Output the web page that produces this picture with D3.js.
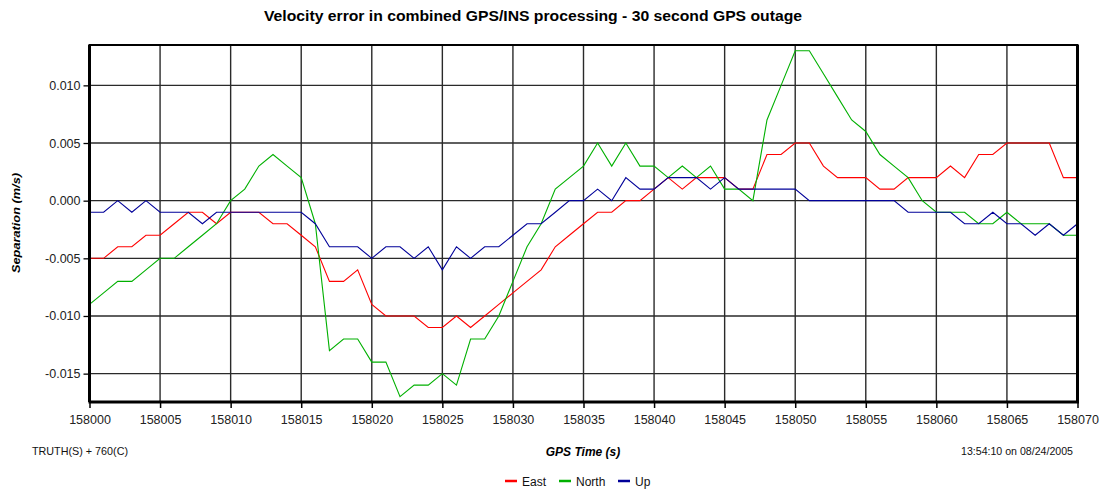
<!DOCTYPE html>
<html>
<head>
<meta charset="utf-8">
<script src="https://cdn.jsdelivr.net/npm/d3@7"></script>
<style>
  body { margin: 0; background: #fff; }
  svg { display: block; font-family: "Liberation Sans", Arial, sans-serif; }
  .tick text { fill: #222; font-size: 12.5px; }
</style>
</head>
<body>
<svg id="chart" width="1105" height="491"></svg>
<script>
// GPS seconds, one sample per second
const times = [
  158000, 158001, 158002, 158003, 158004, 158005, 158006, 158007, 158008, 158009,
  158010, 158011, 158012, 158013, 158014, 158015, 158016, 158017, 158018, 158019,
  158020, 158021, 158022, 158023, 158024, 158025, 158026, 158027, 158028, 158029,
  158030, 158031, 158032, 158033, 158034, 158035, 158036, 158037, 158038, 158039,
  158040, 158041, 158042, 158043, 158044, 158045, 158046, 158047, 158048, 158049,
  158050, 158051, 158052, 158053, 158054, 158055, 158056, 158057, 158058, 158059,
  158060, 158061, 158062, 158063, 158064, 158065, 158066, 158067, 158068, 158069,
  158070
];

// velocity error, m/s
const east = [
  -0.005, -0.005, -0.004, -0.004, -0.003, -0.003, -0.002, -0.001, -0.001, -0.002,
  -0.001, -0.001, -0.001, -0.002, -0.002, -0.003, -0.004, -0.007, -0.007, -0.006,
  -0.009, -0.010, -0.010, -0.010, -0.011, -0.011, -0.010, -0.011, -0.010, -0.009,
  -0.008, -0.007, -0.006, -0.004, -0.003, -0.002, -0.001, -0.001, 0.000, 0.000,
  0.001, 0.002, 0.001, 0.002, 0.002, 0.002, 0.001, 0.001, 0.004, 0.004,
  0.005, 0.005, 0.003, 0.002, 0.002, 0.002, 0.001, 0.001, 0.002, 0.002,
  0.002, 0.003, 0.002, 0.004, 0.004, 0.005, 0.005, 0.005, 0.005, 0.002,
  0.002
];
const north = [
  -0.009, -0.008, -0.007, -0.007, -0.006, -0.005, -0.005, -0.004, -0.003, -0.002,
  0.000, 0.001, 0.003, 0.004, 0.003, 0.002, -0.002, -0.013, -0.012, -0.012,
  -0.014, -0.014, -0.017, -0.016, -0.016, -0.015, -0.016, -0.012, -0.012, -0.010,
  -0.007, -0.004, -0.002, 0.001, 0.002, 0.003, 0.005, 0.003, 0.005, 0.003,
  0.003, 0.002, 0.003, 0.002, 0.003, 0.001, 0.001, 0.000, 0.007, 0.010,
  0.013, 0.013, 0.011, 0.009, 0.007, 0.006, 0.004, 0.003, 0.002, 0.000,
  -0.001, -0.001, -0.001, -0.002, -0.002, -0.001, -0.002, -0.002, -0.002, -0.003,
  -0.003
];
const up = [
  -0.001, -0.001, 0.000, -0.001, 0.000, -0.001, -0.001, -0.001, -0.002, -0.001,
  -0.001, -0.001, -0.001, -0.001, -0.001, -0.001, -0.002, -0.004, -0.004, -0.004,
  -0.005, -0.004, -0.004, -0.005, -0.004, -0.006, -0.004, -0.005, -0.004, -0.004,
  -0.003, -0.002, -0.002, -0.001, 0.000, 0.000, 0.001, 0.000, 0.002, 0.001,
  0.001, 0.002, 0.002, 0.002, 0.001, 0.002, 0.001, 0.001, 0.001, 0.001,
  0.001, 0.000, 0.000, 0.000, 0.000, 0.000, 0.000, 0.000, -0.001, -0.001,
  -0.001, -0.001, -0.002, -0.002, -0.001, -0.002, -0.002, -0.003, -0.002, -0.003,
  -0.002
];

const seriesNames = ['East', 'North', 'Up'];
const seriesColors = ['#ff0000', '#00b000', '#000099'];
const xTicks = [158000, 158005, 158010, 158015, 158020, 158025, 158030, 158035,
  158040, 158045, 158050, 158055, 158060, 158065, 158070];
const yTicks = [-0.015, -0.010, -0.005, 0.000, 0.005, 0.010];

const svg = d3.select('#chart');
const plot = {left: 89.5, right: 1077.5, top: 45, bottom: 402};

const x = d3.scaleLinear().domain([158000, 158070]).range([plot.left, plot.right]);
const y = d3.scaleLinear().domain([-0.01746, 0.0135]).range([plot.bottom, plot.top]);

// grid
svg.append('g').attr('class', 'grid-x')
  .selectAll('line').data(xTicks).join('line')
  .attr('x1', d => x(d)).attr('x2', d => x(d))
  .attr('y1', plot.top).attr('y2', plot.bottom)
  .attr('stroke', '#2a2a2a').attr('stroke-width', 1.4);

svg.append('g').attr('class', 'grid-y')
  .selectAll('line').data(yTicks).join('line')
  .attr('x1', plot.left).attr('x2', plot.right)
  .attr('y1', d => y(d)).attr('y2', d => y(d))
  .attr('stroke', '#2a2a2a').attr('stroke-width', 1.3);

// series lines
const series = [east, north, up];
const line = d3.line()
  .x((d, i) => x(times[i]))
  .y(d => y(d));

svg.append('g').attr('class', 'series')
  .selectAll('path').data(series).join('path')
  .attr('d', line)
  .attr('fill', 'none')
  .attr('stroke', (d, i) => seriesColors[i])
  .attr('stroke-width', 1.1)
  .attr('stroke-linejoin', 'miter');

// axes
const xAxis = d3.axisBottom(x).tickValues(xTicks).tickFormat(d3.format('d'))
  .tickSize(6).tickPadding(7);
const yAxis = d3.axisLeft(y).tickValues(yTicks).tickFormat(d => d.toFixed(3))
  .tickSize(6).tickPadding(3);

const gx = svg.append('g').attr('transform', `translate(0,${plot.bottom})`).call(xAxis);
gx.select('.domain').remove();
gx.selectAll('.tick line').attr('stroke', '#000').attr('stroke-width', 1.5);

const gy = svg.append('g').attr('transform', `translate(${plot.left},0)`).call(yAxis);
gy.select('.domain').remove();
gy.selectAll('.tick line').attr('stroke', '#000').attr('stroke-width', 1.3);

// frame
const frame = svg.append('g').attr('class', 'frame').attr('stroke', '#000').attr('fill', 'none');
frame.append('line').attr('x1', plot.left - 1).attr('x2', plot.right + 1)
  .attr('y1', plot.top).attr('y2', plot.top).attr('stroke-width', 2);
frame.append('line').attr('x1', plot.left - 1).attr('x2', plot.right + 1.5)
  .attr('y1', plot.bottom).attr('y2', plot.bottom).attr('stroke-width', 3);
frame.append('line').attr('x1', plot.left).attr('x2', plot.left)
  .attr('y1', plot.top).attr('y2', plot.bottom).attr('stroke-width', 3);
frame.append('line').attr('x1', plot.right).attr('x2', plot.right)
  .attr('y1', plot.top).attr('y2', plot.bottom).attr('stroke-width', 3);

// texts
svg.append('text')
  .attr('x', 533).attr('y', 21)
  .attr('text-anchor', 'middle')
  .attr('font-size', 14).attr('font-weight', 'bold')
  .attr('textLength', 538).attr('lengthAdjust', 'spacingAndGlyphs')
  .text('Velocity error in combined GPS/INS processing - 30 second GPS outage');

svg.append('text')
  .attr('transform', 'translate(20,223) rotate(-90)')
  .attr('text-anchor', 'middle')
  .attr('font-size', 11).attr('font-weight', 'bold').attr('font-style', 'italic')
  .attr('textLength', 100).attr('lengthAdjust', 'spacingAndGlyphs')
  .text('Separation (m/s)');

svg.append('text')
  .attr('x', 583).attr('y', 456)
  .attr('text-anchor', 'middle')
  .attr('font-size', 12).attr('font-weight', 'bold').attr('font-style', 'italic')
  .text('GPS Time (s)');

svg.append('text')
  .attr('x', 32).attr('y', 455)
  .attr('font-size', 10.5).attr('fill', '#111')
  .attr('textLength', 96).attr('lengthAdjust', 'spacingAndGlyphs')
  .text('TRUTH(S) + 760(C)');

svg.append('text')
  .attr('x', 1073).attr('y', 455)
  .attr('text-anchor', 'end')
  .attr('font-size', 10.5).attr('fill', '#111')
  .attr('textLength', 112).attr('lengthAdjust', 'spacingAndGlyphs')
  .text('13:54:10 on 08/24/2005');

// legend
const legendX = [505, 559, 618];
const legend = svg.append('g').attr('class', 'legend')
  .selectAll('g').data(seriesNames).join('g')
  .attr('transform', (d, i) => `translate(${legendX[i]},481)`);
legend.append('line')
  .attr('x1', 0).attr('x2', 12).attr('y1', 0).attr('y2', 0)
  .attr('stroke', (d, i) => seriesColors[i]).attr('stroke-width', 2.5);
legend.append('text')
  .attr('x', 17).attr('y', 4.5)
  .attr('font-size', 12).attr('fill', '#111')
  .text(d => d);
</script>
</body>
</html>
